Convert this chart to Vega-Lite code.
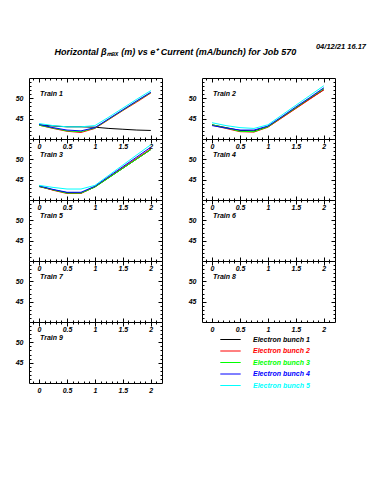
{
  "$schema": "https://vega.github.io/schema/vega-lite/v6.json",
  "background": "white",
  "padding": {"left": 14, "top": 42, "right": 5, "bottom": 5},
  "title": {"text": "04/12/21  16.17", "anchor": "end", "font": "Liberation Sans", "fontSize": 7.5, "fontStyle": "italic", "fontWeight": "bold", "color": "black", "dx": 30, "offset": -2},
  "config": {
    "view": {"stroke": "black", "strokeWidth": 1},
    "header": {"labels": false, "title": null, "labelExpr": "''", "labelFontSize": 0, "labelPadding": 0},
    "headerFacet": {"labels": false, "title": null, "labelExpr": "''", "labelFontSize": 0, "labelPadding": 0},
    "axis": {"grid": false, "domain": false, "title": null, "ticks": true, "tickColor": "black", "tickWidth": 1, "labelColor": "black", "labelFont": "Liberation Sans", "labelFontSize": 7, "labelFontStyle": "italic", "labelFontWeight": "bold", "labelOverlap": false, "labelFlush": false}
  },
  "vconcat": [
    {
      "title": {"text": "Horizontal βₘₐₓ (m) vs e⁺ Current (mA/bunch) for Job 570", "anchor": "middle", "font": "Liberation Sans", "fontSize": 9, "fontStyle": "italic", "fontWeight": "bold", "color": "black", "offset": 20},
      "data": {"values": [
        {"train": 1, "label": "Train 1"}, {"train": 2, "label": "Train 2"}, {"train": 3, "label": "Train 3"},
        {"train": 4, "label": "Train 4"}, {"train": 5, "label": "Train 5"}, {"train": 6, "label": "Train 6"},
        {"train": 7, "label": "Train 7"}, {"train": 8, "label": "Train 8"}, {"train": 9, "label": "Train 9"},
        {"train": 1, "bunch": "Electron bunch 1", "current": 0, "beta": 43.5},
        {"train": 1, "bunch": "Electron bunch 1", "current": 0.25, "beta": 43.2},
        {"train": 1, "bunch": "Electron bunch 1", "current": 0.5, "beta": 43.0},
        {"train": 1, "bunch": "Electron bunch 1", "current": 0.75, "beta": 43.0},
        {"train": 1, "bunch": "Electron bunch 1", "current": 1, "beta": 42.9},
        {"train": 1, "bunch": "Electron bunch 1", "current": 1.25, "beta": 42.6},
        {"train": 1, "bunch": "Electron bunch 1", "current": 1.5, "beta": 42.4},
        {"train": 1, "bunch": "Electron bunch 1", "current": 1.75, "beta": 42.2},
        {"train": 1, "bunch": "Electron bunch 1", "current": 2, "beta": 42.1},
        {"train": 1, "bunch": "Electron bunch 2", "current": 0, "beta": 43.4},
        {"train": 1, "bunch": "Electron bunch 2", "current": 0.25, "beta": 42.6},
        {"train": 1, "bunch": "Electron bunch 2", "current": 0.5, "beta": 41.9},
        {"train": 1, "bunch": "Electron bunch 2", "current": 0.75, "beta": 41.6},
        {"train": 1, "bunch": "Electron bunch 2", "current": 1, "beta": 42.6},
        {"train": 1, "bunch": "Electron bunch 2", "current": 1.25, "beta": 44.8},
        {"train": 1, "bunch": "Electron bunch 2", "current": 1.5, "beta": 47.0},
        {"train": 1, "bunch": "Electron bunch 2", "current": 1.75, "beta": 49.1},
        {"train": 1, "bunch": "Electron bunch 2", "current": 2, "beta": 51.3},
        {"train": 1, "bunch": "Electron bunch 3", "current": 0, "beta": 43.4},
        {"train": 1, "bunch": "Electron bunch 3", "current": 0.25, "beta": 42.7},
        {"train": 1, "bunch": "Electron bunch 3", "current": 0.5, "beta": 42.0},
        {"train": 1, "bunch": "Electron bunch 3", "current": 0.75, "beta": 41.8},
        {"train": 1, "bunch": "Electron bunch 3", "current": 1, "beta": 42.7},
        {"train": 1, "bunch": "Electron bunch 3", "current": 1.25, "beta": 44.9},
        {"train": 1, "bunch": "Electron bunch 3", "current": 1.5, "beta": 47.1},
        {"train": 1, "bunch": "Electron bunch 3", "current": 1.75, "beta": 49.3},
        {"train": 1, "bunch": "Electron bunch 3", "current": 2, "beta": 51.4},
        {"train": 1, "bunch": "Electron bunch 4", "current": 0, "beta": 43.6},
        {"train": 1, "bunch": "Electron bunch 4", "current": 0.25, "beta": 42.8},
        {"train": 1, "bunch": "Electron bunch 4", "current": 0.5, "beta": 42.2},
        {"train": 1, "bunch": "Electron bunch 4", "current": 0.75, "beta": 42.0},
        {"train": 1, "bunch": "Electron bunch 4", "current": 1, "beta": 42.8},
        {"train": 1, "bunch": "Electron bunch 4", "current": 1.25, "beta": 45.0},
        {"train": 1, "bunch": "Electron bunch 4", "current": 1.5, "beta": 47.2},
        {"train": 1, "bunch": "Electron bunch 4", "current": 1.75, "beta": 49.4},
        {"train": 1, "bunch": "Electron bunch 4", "current": 2, "beta": 51.5},
        {"train": 1, "bunch": "Electron bunch 5", "current": 0, "beta": 43.8},
        {"train": 1, "bunch": "Electron bunch 5", "current": 0.25, "beta": 43.3},
        {"train": 1, "bunch": "Electron bunch 5", "current": 0.5, "beta": 43.0},
        {"train": 1, "bunch": "Electron bunch 5", "current": 0.75, "beta": 43.0},
        {"train": 1, "bunch": "Electron bunch 5", "current": 1, "beta": 43.3},
        {"train": 1, "bunch": "Electron bunch 5", "current": 1.25, "beta": 45.4},
        {"train": 1, "bunch": "Electron bunch 5", "current": 1.5, "beta": 47.6},
        {"train": 1, "bunch": "Electron bunch 5", "current": 1.75, "beta": 49.8},
        {"train": 1, "bunch": "Electron bunch 5", "current": 2, "beta": 51.9},
        {"train": 2, "bunch": "Electron bunch 1", "current": 0, "beta": 43.5},
        {"train": 2, "bunch": "Electron bunch 1", "current": 0.25, "beta": 42.8},
        {"train": 2, "bunch": "Electron bunch 1", "current": 0.5, "beta": 42.1},
        {"train": 2, "bunch": "Electron bunch 1", "current": 0.75, "beta": 42.0},
        {"train": 2, "bunch": "Electron bunch 1", "current": 1, "beta": 43.0},
        {"train": 2, "bunch": "Electron bunch 1", "current": 1.25, "beta": 45.3},
        {"train": 2, "bunch": "Electron bunch 1", "current": 1.5, "beta": 47.6},
        {"train": 2, "bunch": "Electron bunch 1", "current": 1.75, "beta": 49.9},
        {"train": 2, "bunch": "Electron bunch 1", "current": 2, "beta": 52.1},
        {"train": 2, "bunch": "Electron bunch 2", "current": 0, "beta": 43.4},
        {"train": 2, "bunch": "Electron bunch 2", "current": 0.25, "beta": 42.6},
        {"train": 2, "bunch": "Electron bunch 2", "current": 0.5, "beta": 41.8},
        {"train": 2, "bunch": "Electron bunch 2", "current": 0.75, "beta": 41.7},
        {"train": 2, "bunch": "Electron bunch 2", "current": 1, "beta": 42.9},
        {"train": 2, "bunch": "Electron bunch 2", "current": 1.25, "beta": 45.2},
        {"train": 2, "bunch": "Electron bunch 2", "current": 1.5, "beta": 47.5},
        {"train": 2, "bunch": "Electron bunch 2", "current": 1.75, "beta": 49.8},
        {"train": 2, "bunch": "Electron bunch 2", "current": 2, "beta": 52.1},
        {"train": 2, "bunch": "Electron bunch 3", "current": 0, "beta": 43.5},
        {"train": 2, "bunch": "Electron bunch 3", "current": 0.25, "beta": 42.7},
        {"train": 2, "bunch": "Electron bunch 3", "current": 0.5, "beta": 41.9},
        {"train": 2, "bunch": "Electron bunch 3", "current": 0.75, "beta": 41.8},
        {"train": 2, "bunch": "Electron bunch 3", "current": 1, "beta": 43.0},
        {"train": 2, "bunch": "Electron bunch 3", "current": 1.25, "beta": 45.4},
        {"train": 2, "bunch": "Electron bunch 3", "current": 1.5, "beta": 47.7},
        {"train": 2, "bunch": "Electron bunch 3", "current": 1.75, "beta": 50.1},
        {"train": 2, "bunch": "Electron bunch 3", "current": 2, "beta": 52.4},
        {"train": 2, "bunch": "Electron bunch 4", "current": 0, "beta": 43.3},
        {"train": 2, "bunch": "Electron bunch 4", "current": 0.25, "beta": 42.7},
        {"train": 2, "bunch": "Electron bunch 4", "current": 0.5, "beta": 42.2},
        {"train": 2, "bunch": "Electron bunch 4", "current": 0.75, "beta": 42.2},
        {"train": 2, "bunch": "Electron bunch 4", "current": 1, "beta": 43.2},
        {"train": 2, "bunch": "Electron bunch 4", "current": 1.25, "beta": 45.5},
        {"train": 2, "bunch": "Electron bunch 4", "current": 1.5, "beta": 47.9},
        {"train": 2, "bunch": "Electron bunch 4", "current": 1.75, "beta": 50.2},
        {"train": 2, "bunch": "Electron bunch 4", "current": 2, "beta": 52.6},
        {"train": 2, "bunch": "Electron bunch 5", "current": 0, "beta": 44.0},
        {"train": 2, "bunch": "Electron bunch 5", "current": 0.25, "beta": 43.3},
        {"train": 2, "bunch": "Electron bunch 5", "current": 0.5, "beta": 42.8},
        {"train": 2, "bunch": "Electron bunch 5", "current": 0.75, "beta": 42.6},
        {"train": 2, "bunch": "Electron bunch 5", "current": 1, "beta": 43.5},
        {"train": 2, "bunch": "Electron bunch 5", "current": 1.25, "beta": 45.9},
        {"train": 2, "bunch": "Electron bunch 5", "current": 1.5, "beta": 48.3},
        {"train": 2, "bunch": "Electron bunch 5", "current": 1.75, "beta": 50.7},
        {"train": 2, "bunch": "Electron bunch 5", "current": 2, "beta": 53.1},
        {"train": 3, "bunch": "Electron bunch 1", "current": 0, "beta": 43.3},
        {"train": 3, "bunch": "Electron bunch 1", "current": 0.25, "beta": 42.5},
        {"train": 3, "bunch": "Electron bunch 1", "current": 0.5, "beta": 41.8},
        {"train": 3, "bunch": "Electron bunch 1", "current": 0.75, "beta": 41.7},
        {"train": 3, "bunch": "Electron bunch 1", "current": 1, "beta": 43.2},
        {"train": 3, "bunch": "Electron bunch 1", "current": 1.25, "beta": 45.5},
        {"train": 3, "bunch": "Electron bunch 1", "current": 1.5, "beta": 47.8},
        {"train": 3, "bunch": "Electron bunch 1", "current": 1.75, "beta": 50.1},
        {"train": 3, "bunch": "Electron bunch 1", "current": 2, "beta": 52.4},
        {"train": 3, "bunch": "Electron bunch 2", "current": 0, "beta": 43.4},
        {"train": 3, "bunch": "Electron bunch 2", "current": 0.25, "beta": 42.4},
        {"train": 3, "bunch": "Electron bunch 2", "current": 0.5, "beta": 41.6},
        {"train": 3, "bunch": "Electron bunch 2", "current": 0.75, "beta": 41.6},
        {"train": 3, "bunch": "Electron bunch 2", "current": 1, "beta": 43.3},
        {"train": 3, "bunch": "Electron bunch 2", "current": 1.25, "beta": 45.6},
        {"train": 3, "bunch": "Electron bunch 2", "current": 1.5, "beta": 48.0},
        {"train": 3, "bunch": "Electron bunch 2", "current": 1.75, "beta": 50.3},
        {"train": 3, "bunch": "Electron bunch 2", "current": 2, "beta": 52.6},
        {"train": 3, "bunch": "Electron bunch 3", "current": 0, "beta": 43.4},
        {"train": 3, "bunch": "Electron bunch 3", "current": 0.25, "beta": 42.5},
        {"train": 3, "bunch": "Electron bunch 3", "current": 0.5, "beta": 41.7},
        {"train": 3, "bunch": "Electron bunch 3", "current": 0.75, "beta": 41.7},
        {"train": 3, "bunch": "Electron bunch 3", "current": 1, "beta": 43.2},
        {"train": 3, "bunch": "Electron bunch 3", "current": 1.25, "beta": 45.5},
        {"train": 3, "bunch": "Electron bunch 3", "current": 1.5, "beta": 47.8},
        {"train": 3, "bunch": "Electron bunch 3", "current": 1.75, "beta": 50.1},
        {"train": 3, "bunch": "Electron bunch 3", "current": 2, "beta": 52.4},
        {"train": 3, "bunch": "Electron bunch 4", "current": 0, "beta": 43.5},
        {"train": 3, "bunch": "Electron bunch 4", "current": 0.25, "beta": 42.6},
        {"train": 3, "bunch": "Electron bunch 4", "current": 0.5, "beta": 41.9},
        {"train": 3, "bunch": "Electron bunch 4", "current": 0.75, "beta": 41.9},
        {"train": 3, "bunch": "Electron bunch 4", "current": 1, "beta": 43.4},
        {"train": 3, "bunch": "Electron bunch 4", "current": 1.25, "beta": 45.8},
        {"train": 3, "bunch": "Electron bunch 4", "current": 1.5, "beta": 48.2},
        {"train": 3, "bunch": "Electron bunch 4", "current": 1.75, "beta": 50.6},
        {"train": 3, "bunch": "Electron bunch 4", "current": 2, "beta": 53.0},
        {"train": 3, "bunch": "Electron bunch 5", "current": 0, "beta": 43.6},
        {"train": 3, "bunch": "Electron bunch 5", "current": 0.25, "beta": 43.1},
        {"train": 3, "bunch": "Electron bunch 5", "current": 0.5, "beta": 42.7},
        {"train": 3, "bunch": "Electron bunch 5", "current": 0.75, "beta": 42.7},
        {"train": 3, "bunch": "Electron bunch 5", "current": 1, "beta": 43.6},
        {"train": 3, "bunch": "Electron bunch 5", "current": 1.25, "beta": 46.1},
        {"train": 3, "bunch": "Electron bunch 5", "current": 1.5, "beta": 48.6},
        {"train": 3, "bunch": "Electron bunch 5", "current": 1.75, "beta": 51.1},
        {"train": 3, "bunch": "Electron bunch 5", "current": 2, "beta": 53.6}
      ]},
      "facet": {"field": "train", "type": "ordinal", "header": {"labels": false, "title": null, "labelExpr": "''", "labelFontSize": 0, "labelPadding": 0}},
      "columns": 2,
      "spacing": {"row": 0, "column": 40},
      "bounds": "flush",
      "resolve": {"axis": {"x": "independent", "y": "independent"}},
      "spec": {
        "width": 133,
        "height": 61,
        "layer": [
          {
            "transform": [{"filter": "isValid(datum.beta)"}],
            "mark": {"type": "line", "strokeWidth": 1, "clip": true},
            "encoding": {
              "x": {"field": "current", "type": "quantitative",
                "scale": {"domain": [-0.18, 2.2], "nice": false, "zero": false},
                "axis": {"orient": "bottom", "labels": false, "tickSize": -2, "offset": 0,
                  "values": [-0.1, 0.1, 0.2, 0.3, 0.4, 0.6, 0.7, 0.8, 0.9, 1.1, 1.2, 1.3, 1.4, 1.6, 1.7, 1.8, 1.9, 2.1]}},
              "y": {"field": "beta", "type": "quantitative",
                "scale": {"domain": [40, 55], "nice": false, "zero": false},
                "axis": {"orient": "left", "labels": false, "tickSize": -2, "offset": 0,
                  "values": [41, 42, 43, 44, 46, 47, 48, 49, 51, 52, 53, 54]}},
              "color": {"field": "bunch", "type": "nominal",
                "scale": {"domain": ["Electron bunch 1", "Electron bunch 2", "Electron bunch 3", "Electron bunch 4", "Electron bunch 5"],
                  "range": ["#000000", "#ff0000", "#00ff00", "#0000ff", "#00ffff"]},
                "legend": {"orient": "none", "legendX": 195, "legendY": 255, "title": null,
                  "symbolType": "M-1.7,0H1.7", "symbolSize": 144, "symbolStrokeWidth": 1,
                  "labelFont": "Liberation Sans", "labelFontSize": 7, "labelFontStyle": "italic", "labelFontWeight": "bold",
                  "labelOffset": 16, "rowPadding": 1.5,
                  "encode": {"labels": {"update": {"fill": {"scale": "color", "field": "value"}}}}}}
            }
          },
          {
            "transform": [{"filter": "isValid(datum.label)"}],
            "mark": {"type": "text", "align": "left", "baseline": "middle", "font": "Liberation Sans", "fontSize": 7, "fontStyle": "italic", "fontWeight": "bold", "color": "black", "dx": 1},
            "encoding": {
              "x": {"datum": 0, "type": "quantitative",
                "axis": {"orient": "top", "labels": false, "tickSize": -2, "offset": 0,
                  "values": [-0.1, 0.1, 0.2, 0.3, 0.4, 0.6, 0.7, 0.8, 0.9, 1.1, 1.2, 1.3, 1.4, 1.6, 1.7, 1.8, 1.9, 2.1]}},
              "y": {"datum": 51.0, "type": "quantitative",
                "axis": {"orient": "right", "labels": false, "tickSize": -2, "offset": 0,
                  "values": [41, 42, 43, 44, 46, 47, 48, 49, 51, 52, 53, 54]}},
              "text": {"field": "label"}
            }
          },
          {
            "transform": [{"filter": "isValid(datum.label)"}],
            "mark": {"type": "text", "text": ""},
            "encoding": {
              "x": {"datum": 0, "type": "quantitative",
                "axis": {"orient": "bottom", "tickSize": -4, "offset": 0, "labelPadding": 7,
                  "values": [0, 0.5, 1, 1.5, 2],
                  "labelExpr": "datum.value == 0 ? '0' : datum.value == 0.5 ? '0.5' : datum.value == 1 ? '1' : datum.value == 1.5 ? '1.5' : '2'"}},
              "y": {"datum": 51.0, "type": "quantitative",
                "axis": {"orient": "left", "tickSize": -4, "offset": 0, "labelPadding": 10,
                  "values": [45, 50]}}
            }
          },
          {
            "transform": [{"filter": "isValid(datum.label)"}],
            "mark": {"type": "text", "text": ""},
            "encoding": {
              "x": {"datum": 0, "type": "quantitative",
                "axis": {"orient": "top", "labels": false, "tickSize": -4, "offset": 0,
                  "values": [0, 0.5, 1, 1.5, 2]}},
              "y": {"datum": 51.0, "type": "quantitative",
                "axis": {"orient": "right", "labels": false, "tickSize": -4, "offset": 0,
                  "values": [45, 50]}}
            }
          }
        ],
        "resolve": {"axis": {"x": "independent", "y": "independent"}}
      }
    }
  ]
}
